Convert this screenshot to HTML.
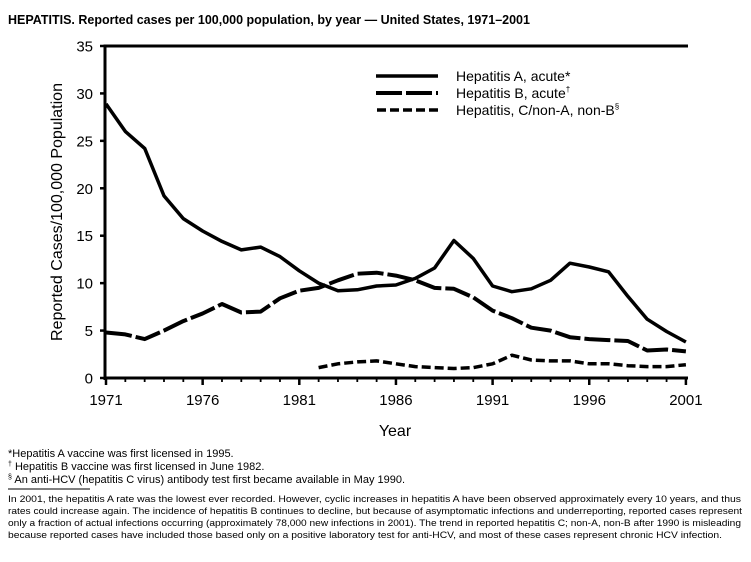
<!DOCTYPE html>
<html><head><meta charset="utf-8"><style>
body{margin:0;background:#fff;width:751px;height:557px;overflow:hidden;font-family:"Liberation Sans",sans-serif;}
</style></head><body>
<svg id="s" width="751" height="557" xmlns="http://www.w3.org/2000/svg" font-family="Liberation Sans, sans-serif">
<text x="8" y="24" font-size="12.5" font-weight="bold">HEPATITIS. <tspan font-weight="bold">Reported cases per 100,000 population, by year — United States, 1971–2001</tspan></text>
<g id="ax" stroke="#000" fill="none"></g>
<g id="lab" font-size="15" fill="#000"></g>
<g id="ser" fill="none" stroke="#000" stroke-width="3.5" stroke-linejoin="round"></g>
<line x1="376" y1="76" x2="438" y2="76" stroke="#000" stroke-width="3.5"/>
<line x1="376" y1="93" x2="438" y2="93" stroke="#000" stroke-width="4" stroke-dasharray="26,4"/>
<line x1="377" y1="110" x2="438" y2="110" stroke="#000" stroke-width="3.5" stroke-dasharray="9,4"/>
<text x="456" y="81" font-size="14">Hepatitis A, acute*</text>
<text x="456" y="98" font-size="14">Hepatitis B, acute<tspan font-size="8" dy="-6">†</tspan></text>
<text x="456" y="115" font-size="14">Hepatitis, C/non-A, non-B<tspan font-size="8" dy="-6">§</tspan></text>
<text transform="translate(62,212) rotate(-90)" text-anchor="middle" font-size="16">Reported Cases/100,000 Population</text>
<text x="395" y="436" text-anchor="middle" font-size="16">Year</text>
<g font-size="11">
<text x="8" y="457">*Hepatitis A vaccine was first licensed in 1995.</text>
<text x="8" y="470"><tspan font-size="7" dy="-4">†</tspan><tspan dy="4"> Hepatitis B vaccine was first licensed in June 1982.</tspan></text>
<text x="8" y="483"><tspan font-size="7" dy="-4">§</tspan><tspan dy="4"> An anti-HCV (hepatitis C virus) antibody test first became available in May 1990.</tspan></text>
</g>
<line x1="8" y1="489" x2="90" y2="489" stroke="#000" stroke-width="1"/>
<g font-size="9.3">
<text x="8" y="502" textLength="733" lengthAdjust="spacingAndGlyphs">In 2001, the hepatitis A rate was the lowest ever recorded. However, cyclic increases in hepatitis A have been observed approximately every 10 years, and thus</text>
<text x="8" y="514" textLength="734" lengthAdjust="spacingAndGlyphs">rates could increase again. The incidence of hepatitis B continues to decline, but because of asymptomatic infections and underreporting, reported cases represent</text>
<text x="8" y="526" textLength="733" lengthAdjust="spacingAndGlyphs">only a fraction of actual infections occurring (approximately 78,000 new infections in 2001). The trend in reported hepatitis C; non-A, non-B after 1990 is misleading</text>
<text x="8" y="538" textLength="714" lengthAdjust="spacingAndGlyphs">because reported cases have included those based only on a positive laboratory test for anti-HCV, and most of these cases represent chronic HCV infection.</text>
</g>
</svg>
<script>
var NS="http://www.w3.org/2000/svg";
function el(p,t,a,txt){var e=document.createElementNS(NS,t);for(var k in a)e.setAttribute(k,a[k]);if(txt!=null)e.textContent=txt;document.getElementById(p).appendChild(e);return e;}
var X0=106,XS=19.33,Y0=378,YS=9.486;
function px(y){return X0+(y-1971)*XS;} function py(v){return Y0-v*YS;}
el("ax","line",{x1:105,y1:46,x2:105,y2:380,"stroke-width":3});
el("ax","line",{x1:103.5,y1:46,x2:688,y2:46,"stroke-width":3});
el("ax","line",{x1:104,y1:378,x2:688,y2:378,"stroke-width":3});
for(var v=0;v<=35;v+=5){var y=py(v);el("ax","line",{x1:100,y1:y,x2:105,y2:y,"stroke-width":2.5});
el("lab","text",{x:93,y:y+5.5,"text-anchor":"end"},String(v));}
for(var yr=1971;yr<=2001;yr++){var x=px(yr);var maj=(yr-1971)%5==0;
el("ax","line",{x1:x,y1:378,x2:x,y2:maj?385:382,"stroke-width":maj?2.5:1.8});
if(maj)el("lab","text",{x:x,y:405,"text-anchor":"middle"},String(yr));}
var A=[28.9,26.0,24.2,19.2,16.8,15.5,14.4,13.5,13.8,12.8,11.3,10.0,9.2,9.3,9.7,9.8,10.5,11.6,14.5,12.6,9.7,9.1,9.4,10.3,12.1,11.7,11.2,8.6,6.2,4.9,3.8];
var B=[4.8,4.6,4.1,5.0,6.0,6.8,7.8,6.9,7.0,8.4,9.2,9.5,10.3,11.0,11.1,10.8,10.3,9.5,9.4,8.5,7.1,6.3,5.3,5.0,4.3,4.1,4.0,3.9,2.9,3.0,2.8];
var C=[1.1,1.5,1.7,1.8,1.5,1.2,1.1,1.0,1.1,1.5,2.4,1.9,1.8,1.8,1.5,1.5,1.3,1.2,1.2,1.4];
function pts(d,s){return d.map(function(v,i){return px(s+i).toFixed(1)+","+py(v).toFixed(1)}).join(" ");}
el("ser","polyline",{points:pts(A,1971)});
el("ser","polyline",{points:pts(B,1971),"stroke-width":4,"stroke-dasharray":"26,4"});
el("ser","polyline",{points:pts(C,1982),"stroke-dasharray":"9,4"});
</script>
</body></html>
